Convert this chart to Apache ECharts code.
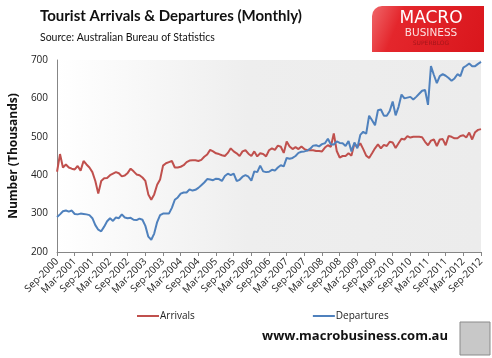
<!DOCTYPE html>
<html><head><meta charset="utf-8">
<script src="https://cdn.jsdelivr.net/npm/echarts@6/dist/echarts.min.js"></script>
<style>html,body{margin:0;padding:0;background:#fff}#c{width:492px;height:358px}</style>
</head><body><div id="c"></div>
<script>
// Month labels Sep-2000 .. Sep-2012
var monthNames = ['Jan','Feb','Mar','Apr','May','Jun','Jul','Aug','Sep','Oct','Nov','Dec'];
var startYear = 2000, startMonth = 8, monthCount = 145;
var categories = [];
for (var i = 0; i < monthCount; i++) {
  var m = startMonth + i;
  categories.push(monthNames[m % 12] + '-' + (startYear + Math.floor(m / 12)));
}
var yTicks = [200, 300, 400, 500, 600, 700];

var arrivals = [
409,455,420,428,420,417,415,424,412,437,428,420,408,385,352,385,392,393,400,404,
408,405,397,399,406,417,410,402,400,394,385,350,336,350,375,389,425,431,434,437,
420,420,422,426,434,438,439,439,437,440,448,454,466,462,457,455,452,450,458,470,
462,457,450,462,465,456,450,462,449,457,455,449,465,470,466,477,474,458,488,475,
468,473,468,475,468,465,465,465,463,463,462,472,478,474,509,463,446,450,450,457,
451,482,474,483,468,451,445,457,470,480,470,479,476,487,485,471,483,495,493,502,
498,500,500,500,499,487,478,490,493,476,493,494,478,502,500,496,496,502,504,498,
511,493,512,518,520];

var departures = [
291,298,306,308,305,308,299,298,300,299,298,296,288,270,258,254,266,280,288,281,
290,288,298,290,288,289,284,283,287,284,268,240,232,248,278,296,300,300,300,315,
336,342,352,355,355,363,360,362,367,374,381,390,389,387,391,390,385,398,404,400,
404,385,388,396,400,396,386,410,408,425,410,408,409,414,412,420,426,423,445,443,
445,450,458,461,462,464,469,477,478,475,481,483,495,480,480,488,484,483,476,489,
462,485,470,505,513,508,555,543,530,569,571,555,555,567,592,556,578,610,600,602,
604,597,604,612,620,622,583,684,661,640,658,663,659,653,646,652,663,658,680,685,
691,684,684,690,695];

var chart = echarts.init(document.getElementById('c'), null, {renderer: 'canvas'});
var F = 'Open Sans';
chart.setOption({
  animation: false,
  backgroundColor: '#ffffff',
  grid: {
    left: 49, right: 11, top: 60, bottom: 106, show: true, borderWidth: 0,
    backgroundColor: new echarts.graphic.LinearGradient(0, 0, 1, 0, [
      {offset: 0, color: '#ffffff'}, {offset: 0.45, color: '#eeeeee'}, {offset: 1, color: '#ececec'}
    ])
  },
  xAxis: {
    type: 'category', data: categories, boundaryGap: false,
    axisLine: {lineStyle: {color: '#868686', width: 1}},
    axisTick: {interval: 5, length: 4, lineStyle: {color: '#868686'}},
    axisLabel: {interval: 5, rotate: 45, fontFamily: F, fontSize: 10, color: '#222', margin: 8}
  },
  yAxis: {
    type: 'value', min: 200, max: 700, interval: 100,
    name: 'Number (Thousands)', nameLocation: 'middle', nameGap: 37,
    nameTextStyle: {fontFamily: F, fontWeight: 'bold', fontSize: 12, color: '#111'},
    axisLine: {show: true, lineStyle: {color: '#868686'}},
    axisTick: {show: false},
    splitLine: {show: false},
    axisLabel: {fontFamily: F, fontSize: 10, color: '#222', margin: 9,
      formatter: function (v) { return yTicks.indexOf(v) >= 0 ? String(v) : ''; }}
  },
  legend: {
    left: 132, top: 306, itemGap: 118, itemWidth: 22, itemHeight: 2,
    icon: 'rect', textStyle: {fontFamily: F, fontSize: 10, color: '#222', padding: [0, 0, 0, -4]},
    data: ['Arrivals', 'Departures']
  },
  series: [
    {name: 'Arrivals', type: 'line', data: arrivals, symbol: 'none', color: '#c0504d',
     lineStyle: {width: 2, color: '#c0504d'}},
    {name: 'Departures', type: 'line', data: departures, symbol: 'none', color: '#4f81bd',
     lineStyle: {width: 2, color: '#4f81bd'}}
  ],
  graphic: [
    {type: 'text', left: 40, top: 9, style: {text: 'Tourist Arrivals & Departures (Monthly)',
      font: 'bold 15px Lato', fill: '#111'}},
    {type: 'text', left: 40, top: 32, style: {text: 'Source: Australian Bureau of Statistics',
      font: '10.5px Lato', fill: '#111'}},
    {type: 'rect', shape: {x: 372, y: 6, width: 112, height: 46, r: [10, 0, 0, 0]},
      style: {fill: new echarts.graphic.LinearGradient(0, 0, 1, 1, [
        {offset: 0, color: '#f0676a'}, {offset: 0.25, color: '#e4262c'}, {offset: 1, color: '#d9161c'}])}},
    {type: 'text', x: 431, y: 10, style: {text: 'MACRO', font: '17px "DejaVu Sans"', fill: '#ffffff', align: 'center'}},
    {type: 'text', x: 431, y: 28, style: {text: 'BUSINESS', font: '10.5px "DejaVu Sans"', fill: '#fbe0e0', align: 'center'}},
    {type: 'text', x: 431, y: 40, style: {text: 'SUPERBLOG', font: '6px "DejaVu Sans"', fill: '#a5151a', align: 'center'}},
    {type: 'text', left: 262, top: 330, style: {text: 'www.macrobusiness.com.au',
      font: 'bold 13px "Open Sans"', fill: '#111'}},
    {type: 'rect', shape: {x: 460, y: 322, width: 30, height: 33},
      style: {fill: '#c8c8c8', stroke: '#8a8a8a', lineWidth: 1}}
  ]
});
</script></body></html>
